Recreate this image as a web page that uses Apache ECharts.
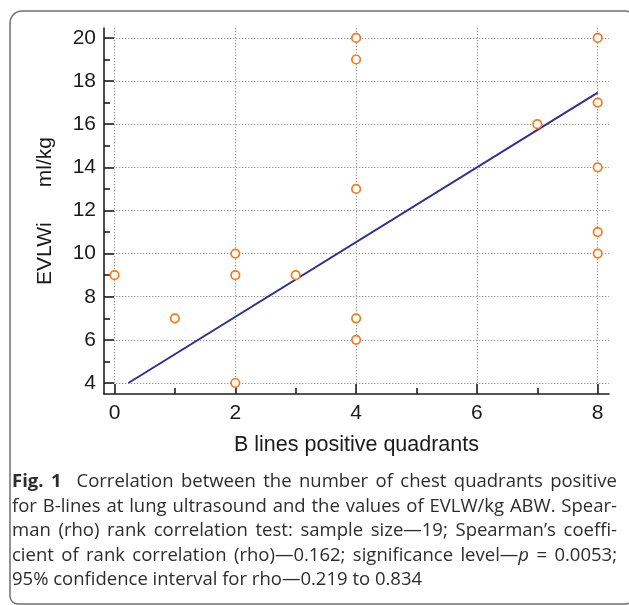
<!DOCTYPE html>
<html>
<head>
<meta charset="utf-8">
<script src="https://cdn.jsdelivr.net/npm/echarts@6/dist/echarts.min.js"></script>
<style>
html,body{margin:0;padding:0;background:#fff;}
#chart{width:629px;height:605px;}
</style>
</head>
<body>
<div id="chart"></div>
<script>
// ---- data ----
const xTicks = [0, 2, 4, 6, 8];
const xMinorTicks = [1, 3, 5, 7];
const yTicks = [4, 6, 8, 10, 12, 14, 16, 18, 20];
const yMinorTicks = [5, 7, 9, 11, 13, 15, 17, 19];
const pointsX = [0, 1, 2, 2, 2, 3, 4, 4, 4, 4, 4, 7, 8, 8, 8, 8, 8];
const pointsY = [9, 7, 10, 9, 4, 9, 20, 19, 13, 7, 6, 16, 20, 17, 14, 11, 10];
const fitX = [0.23, 8];
const fitY = [4.0, 17.46];
const xName = 'B lines positive quadrants';
const yName = 'EVLWi      ml/kg';
// caption: words; prefix "*" = bold, "_" = italic, "~" joins parts without a gap, "|" = extra gap
const captionLines = [
  '*Fig. *1 | Correlation between the number of chest quadrants positive',
  'for B-lines at lung ultrasound and the values of EVLW/kg ABW. Spear-',
  'man (rho) rank correlation test: sample size\u201419; Spearman\u2019s coeffi-',
  'cient of rank correlation (rho)\u20140.162; significance level\u2014~_p = 0.0053;',
  '95% confidence interval for rho\u20140.219 to 0.834'
];

const axisFont = 'Liberation Sans, Arial, Helvetica, sans-serif';
const capFamily = "'Open Sans', 'Noto Sans', sans-serif";
const capLeft = 12, capRight = 617, capTop = 482, capStep = 24.5;

const cv = document.createElement('canvas').getContext('2d');
function styleOf(w) {
  if (w[0] === '*') return {t: w.slice(1), k: 'b'};
  if (w[0] === '_') return {t: w.slice(1), k: 'i'};
  return {t: w, k: 'n'};
}
function fontStr(k, s) {
  return (k === 'i' ? 'italic ' : 'normal ') + (k === 'b' ? 'bold ' : 'normal ') + s + 'px ' + capFamily;
}
function measure(w, s) {
  let total = 0;
  w.split('~').forEach(part => {
    const st = styleOf(part);
    cv.font = fontStr(st.k, s);
    total += cv.measureText(st.t).width;
  });
  return total;
}
function splitWords(line) {
  return line.split(' ').filter(w => w.length);
}
function natural(line, s) {
  const words = splitWords(line);
  cv.font = fontStr('n', s);
  const sp = cv.measureText(' ').width;
  let total = 0, gaps = 0, n = 0;
  words.forEach(w => {
    if (w === '|') { gaps += 1; return; }
    n += 1;
    total += measure(w, s);
  });
  return total + (n - 1 + gaps) * sp;
}
const target = capRight - capLeft;
let maxW = 0;
for (let i = 0; i < 4; i++) maxW = Math.max(maxW, natural(captionLines[i], 17));
const capSize = Math.max(14, Math.min(18.5, 17 * (target - 6) / maxW));

function buildLine(line, idx) {
  const words = splitWords(line);
  cv.font = fontStr('n', capSize);
  const sp = cv.measureText(' ').width;
  const real = words.filter(w => w !== '|');
  let wordsW = 0;
  real.forEach(w => { wordsW += measure(w, capSize); });
  const nGaps = real.length - 1 + words.filter(w => w === '|').length;
  const justify = idx < captionLines.length - 1;
  const gap = justify ? (target - wordsW) / nGaps : sp;
  let text = '';
  let first = true;
  words.forEach(w => {
    if (w === '|') { text += '{g| }'; return; }
    if (!first) text += '{g| }';
    first = false;
    w.split('~').forEach(part => {
      const st = styleOf(part);
      text += '{' + st.k + '|' + st.t + '}';
    });
  });
  return {text, gap};
}

const scatterData = pointsX.map((x, i) => [x, pointsY[i]]);
const fitData = fitX.map((x, i) => [x, fitY[i]]);

const capColor = '#2d2d2d';
const captionGraphics = captionLines.map((l, i) => {
  const b = buildLine(l, i);
  return {
    type: 'text',
    x: capLeft,
    y: capTop + i * capStep,
    style: {
      text: b.text,
      verticalAlign: 'middle',
      rich: {
        b: {fontFamily: capFamily, fontWeight: 'bold', fontSize: capSize, fill: capColor},
        i: {fontFamily: capFamily, fontStyle: 'italic', fontSize: capSize, fill: capColor},
        n: {fontFamily: capFamily, fontSize: capSize, fill: capColor},
        g: {fontFamily: capFamily, fontSize: capSize, width: b.gap, fill: capColor}
      }
    }
  };
});

const chart = echarts.init(document.getElementById('chart'), null, {renderer: 'canvas'});

const gridLine = {show: true, lineStyle: {color: '#9a9a9a', width: 1, type: [1.3, 1.7]}};
const xRange = {min: -0.174, max: 8.187};
const yRange = {min: 3.49, max: 20.46};
const tickStyle = {color: '#1e1e1e', width: 1.6};
const labelStyle = {fontSize: 21, fontFamily: axisFont, color: '#1a1a1a'};

chart.setOption({
  animation: false,
  backgroundColor: '#fff',
  grid: {left: 104, top: 28, right: 20, bottom: 211, containLabel: false},
  xAxis: [
    Object.assign({
      type: 'value', position: 'bottom',
      axisLine: {show: true, onZero: false, lineStyle: tickStyle},
      axisTick: {show: true, inside: true, length: 10, customValues: xTicks, lineStyle: tickStyle},
      axisLabel: Object.assign({show: true, customValues: xTicks, margin: 9}, labelStyle),
      splitLine: gridLine,
      name: xName, nameLocation: 'middle', nameGap: 40,
      nameTextStyle: {fontSize: 21.5, fontFamily: axisFont, color: '#1a1a1a'}
    }, xRange),
    Object.assign({
      type: 'value', position: 'bottom',
      axisLine: {show: false, onZero: false},
      axisTick: {show: true, inside: true, length: 6, customValues: xMinorTicks, lineStyle: tickStyle},
      axisLabel: {show: false},
      splitLine: {show: false}
    }, xRange)
  ],
  yAxis: [
    Object.assign({
      type: 'value', position: 'left',
      axisLine: {show: true, onZero: false, lineStyle: tickStyle},
      axisTick: {show: true, inside: true, length: 10, customValues: yTicks, lineStyle: tickStyle},
      axisLabel: Object.assign({show: true, customValues: yTicks, margin: 8}, labelStyle),
      splitLine: gridLine,
      name: yName, nameLocation: 'middle', nameGap: 48,
      nameTextStyle: {fontSize: 21, fontFamily: axisFont, color: '#1a1a1a'}
    }, yRange),
    Object.assign({
      type: 'value', position: 'left',
      axisLine: {show: false, onZero: false},
      axisTick: {show: true, inside: true, length: 6, customValues: yMinorTicks, lineStyle: tickStyle},
      axisLabel: {show: false},
      splitLine: {show: false}
    }, yRange)
  ],
  series: [
    {
      type: 'line', xAxisIndex: 0, yAxisIndex: 0,
      data: fitData, symbol: 'none', silent: true, z: 2,
      lineStyle: {color: '#2f2f96', width: 2}
    },
    {
      type: 'scatter', xAxisIndex: 0, yAxisIndex: 0,
      data: scatterData, symbol: 'circle', symbolSize: 8.5, z: 3,
      itemStyle: {color: '#ffffff', borderColor: '#ff7415', borderWidth: 1.7, opacity: 1}
    }
  ],
  graphic: [
    {
      type: 'rect',
      shape: {x: 10, y: 11, width: 622, height: 593, r: [12, 6, 6, 8]},
      style: {fill: null, stroke: '#707070', lineWidth: 1.5}
    }
  ].concat(captionGraphics)
});
</script>
</body>
</html>
